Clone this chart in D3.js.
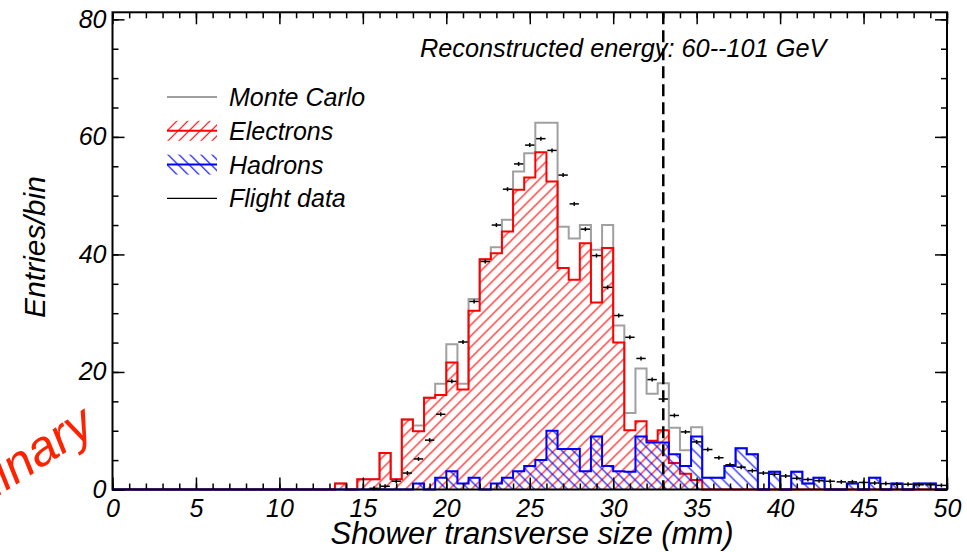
<!DOCTYPE html>
<html>
<head>
<meta charset="utf-8">
<script src="https://cdn.jsdelivr.net/npm/d3@7"></script>
<style>
  body { margin: 0; background: #fff; }
  text { font-family: "Liberation Sans", Arial, sans-serif; font-style: italic; }
</style>
</head>
<body>
<svg width="967" height="552"></svg>
<script>
const width = 967;
const height = 552;

// 75 bins of 2/3 mm between 0 and 50 mm
const xRange = [0, 50];
const yMax = 81.2;
const xMajorTicks = [0, 5, 10, 15, 20, 25, 30, 35, 40, 45, 50];
const yMajorTicks = [0, 20, 40, 60, 80];
const cutValue = 33;

const electrons = [
    0, 0, 0, 0, 0, 0, 0, 0, 0, 0, 0, 0, 0, 0, 0, 0, 0, 0, 0, 0,
    1.0, 0, 1.75, 1.75, 6.2, 1.75, 11.9, 9.9, 15.6, 16.1, 21.6, 17.0, 30.4, 39.2, 40.2,
    43.9, 51.0, 53.1, 57.4, 52.4, 37.7, 35.7, 41.9, 31.8, 41.1, 25.0, 10.1, 11.6, 8.3,
    10.1, 4.5, 2.7, 1.6,
    0, 0, 0, 0, 0, 0, 0, 0, 0, 0, 0, 0, 0, 0, 0, 0, 0, 0, 0, 0, 0, 0
];

const hadrons = [
    0, 0, 0, 0, 0, 0, 0, 0, 0, 0, 0, 0, 0, 0, 0, 0, 0, 0, 0, 0, 0, 0, 0, 0, 0, 0, 0,
    1, 0, 2, 3.1, 1, 2, 0, 1, 2, 3.1, 4, 5, 10, 6.9, 6.9, 3.1, 9, 4, 3.1, 3, 9, 8, 8,
    6, 4, 9, 2, 2, 4, 7, 6, 0, 3, 0, 3, 1, 2, 0, 0, 1, 0, 2, 0, 1, 0, 1, 1, 0
];

const monteCarlo = [
    0, 0, 0, 0, 0, 0, 0, 0, 0, 0, 0, 0, 0, 0, 0, 0, 0, 0, 0, 0,
    1.0, 0, 1.75, 1.75, 6.2, 1.75, 11.9, 10.9, 15.6, 18.0, 24.7, 18.0, 32.4, 39.2, 41.2,
    45.9, 54.1, 57.2, 62.4, 62.4, 44.7, 42.7, 45.0, 40.8, 45.0, 27.9, 13.0, 20.6, 16.3,
    18.1, 10.5, 6.7, 10.6, 2, 2, 4, 7, 6, 0, 3, 0, 3, 1, 2, 0, 0, 1, 0, 2, 0, 1, 0, 1, 1, 0
];

const flightData = [
    null, null, null, null, null, null, null, null, null, null, null, null,
    null, null, null, null, null, null, null, null, null, null, null,
    0.2, 0.55, 1.4, 2.8, 5.2, 8.4, 12.8, 18.4, 25.1, 32.0, 38.8, 45.0, 51.1, 55.4,
    58.6, 59.7, 57.7, 53.5, 48.6, 44.3, 39.8, 34.4, 29.6, 25.9, 22.3, 18.7, 15.4,
    12.6, 9.8, 8.1, 6.8, 5.4, 4.2, 3.8, 3.2, 2.8, 2.6, 2.3, 1.9, 1.7, 1.5, 1.4,
    1.3, 1.3, 1.2, 1.1, 1.0, 0.9, 0.9, 0.8, 0.8, 0.7
];

const legendItems = ['Monte Carlo', 'Electrons', 'Hadrons', 'Flight data'];

const svg = d3.select('svg');
const margin = { top: 12.3, right: 20, bottom: 62.5, left: 112.5 };
const innerWidth = width - margin.left - margin.right;
const innerHeight = height - margin.top - margin.bottom;
const nBins = electrons.length;
const binWidth = (xRange[1] - xRange[0]) / nBins;

const xScale = d3.scaleLinear().domain(xRange).range([0, innerWidth]);
const yScale = d3.scaleLinear().domain([0, yMax]).range([innerHeight, 0]);

svg.append('rect').attr('width', width).attr('height', height).attr('fill', '#fff');

const defs = svg.append('defs');
const hatch = (id, color, d) => {
    defs.append('pattern')
        .attr('id', id)
        .attr('patternUnits', 'userSpaceOnUse')
        .attr('width', 11).attr('height', 11)
        .append('path')
        .attr('d', d)
        .attr('stroke', color)
        .attr('stroke-width', 1.15)
        .attr('fill', 'none');
};
hatch('hatchRed', '#ff0000', 'M-1,1 l2,-2 M0,11 l11,-11 M10,12 l2,-2');
hatch('hatchBlue', '#0000ff', 'M-1,10 l2,2 M0,0 l11,11 M10,-1 l2,2');

const g = svg.append('g')
    .attr('transform', 'translate(' + margin.left + ',' + margin.top + ')');

// step points for a histogram
const stepPoints = values => {
    const pts = [[xRange[0], 0]];
    values.forEach((v, i) => {
        pts.push([xRange[0] + i * binWidth, v]);
        pts.push([xRange[0] + (i + 1) * binWidth, v]);
    });
    pts.push([xRange[1], 0]);
    return pts;
};

const line = d3.line().x(d => xScale(d[0])).y(d => yScale(d[1]));
const area = d3.area().x(d => xScale(d[0])).y0(yScale(0)).y1(d => yScale(d[1]));

g.append('path')
    .attr('d', line(stepPoints(monteCarlo)))
    .attr('fill', 'none')
    .attr('stroke', '#a0a0a0')
    .attr('stroke-width', 2);

g.append('path')
    .attr('d', area(stepPoints(electrons)))
    .attr('fill', 'url(#hatchRed)');
g.append('path')
    .attr('d', line(stepPoints(electrons)))
    .attr('fill', 'none')
    .attr('stroke', '#ff0000')
    .attr('stroke-width', 2);

g.append('path')
    .attr('d', area(stepPoints(hadrons)))
    .attr('fill', 'url(#hatchBlue)');
g.append('path')
    .attr('d', line(stepPoints(hadrons)))
    .attr('fill', 'none')
    .attr('stroke', '#0000ff')
    .attr('stroke-width', 2);

// energy cut
g.append('line')
    .attr('x1', xScale(cutValue)).attr('x2', xScale(cutValue))
    .attr('y1', 0).attr('y2', innerHeight)
    .attr('stroke', '#000')
    .attr('stroke-width', 2.5)
    .attr('stroke-dasharray', '12,6');

// flight data markers
const dataPts = flightData
    .map((v, i) => ({ x: xRange[0] + (i + 0.5) * binWidth, v: v }))
    .filter(d => d.v !== null);
const halfW = xScale(binWidth) * 0.42;
const marks = g.selectAll('.pt').data(dataPts).enter().append('g')
    .attr('class', 'pt')
    .attr('transform', d => 'translate(' + xScale(d.x) + ',' + yScale(d.v) + ')');
marks.append('line')
    .attr('x1', -halfW).attr('x2', halfW)
    .attr('stroke', '#000').attr('stroke-width', 1.5);
marks.append('line')
    .attr('y1', -2).attr('y2', 2)
    .attr('stroke', '#000').attr('stroke-width', 1.5);

// frame
g.append('rect')
    .attr('width', innerWidth).attr('height', innerHeight)
    .attr('fill', 'none').attr('stroke', '#000').attr('stroke-width', 2);

const tickStyle = sel => {
    sel.select('.domain').remove();
    sel.selectAll('.tick line').attr('stroke', '#000').attr('stroke-width', 1.5);
    sel.selectAll('.tick text').filter(function () { return this.textContent === ''; }).remove();
    sel.selectAll('.tick text').attr('fill', '#000').attr('font-size', 25)
        .attr('font-family', '"Liberation Sans", Arial, sans-serif');
};

const minorX = d3.range(0, 51, 1);
const minorY = d3.range(0, 81, 5);

g.append('g').attr('transform', 'translate(0,' + innerHeight + ')')
    .call(d3.axisBottom(xScale).tickValues(minorX).tickSize(-6).tickFormat(''))
    .call(tickStyle);
g.append('g').attr('transform', 'translate(0,' + innerHeight + ')')
    .call(d3.axisBottom(xScale).tickValues(xMajorTicks).tickSize(-12).tickPadding(10)
        .tickFormat(d3.format('d')))
    .call(tickStyle);
g.append('g')
    .call(d3.axisTop(xScale).tickValues(minorX).tickSize(-6).tickFormat(''))
    .call(tickStyle);
g.append('g')
    .call(d3.axisTop(xScale).tickValues(xMajorTicks).tickSize(-12).tickFormat(''))
    .call(tickStyle);

g.append('g')
    .call(d3.axisLeft(yScale).tickValues(minorY).tickSize(-6).tickFormat(''))
    .call(tickStyle);
g.append('g')
    .call(d3.axisLeft(yScale).tickValues(yMajorTicks).tickSize(-12).tickPadding(6)
        .tickFormat(d3.format('d')))
    .call(tickStyle);
g.append('g').attr('transform', 'translate(' + innerWidth + ',0)')
    .call(d3.axisRight(yScale).tickValues(minorY).tickSize(-6).tickFormat(''))
    .call(tickStyle);
g.append('g').attr('transform', 'translate(' + innerWidth + ',0)')
    .call(d3.axisRight(yScale).tickValues(yMajorTicks).tickSize(-12).tickFormat(''))
    .call(tickStyle);

// titles
svg.append('text')
    .text('Shower transverse size (mm)')
    .attr('x', 532).attr('y', 544)
    .attr('text-anchor', 'middle')
    .attr('font-size', 31);

svg.append('text')
    .text('Entries/bin')
    .attr('transform', 'translate(45,247) rotate(-90)')
    .attr('text-anchor', 'middle')
    .attr('font-size', 30);

svg.append('text')
    .text('Reconstructed energy: 60--101 GeV')
    .attr('x', 420).attr('y', 57)
    .attr('font-size', 25.3);

// legend
const legend = svg.append('g').attr('transform', 'translate(167,97)');
const rowH = 33.8;
legendItems.forEach((name, i) => {
    const row = legend.append('g').attr('transform', 'translate(0,' + i * rowH + ')');
    if (i === 1 || i === 2) {
        row.append('rect')
            .attr('x', 0).attr('y', -10).attr('width', 50).attr('height', 20)
            .attr('fill', i === 1 ? 'url(#hatchRed)' : 'url(#hatchBlue)');
    }
    row.append('line')
        .attr('x1', 0).attr('x2', 50)
        .attr('stroke', ['#a0a0a0', '#ff0000', '#0000ff', '#000'][i])
        .attr('stroke-width', i === 3 ? 1.2 : 2);
    row.append('text')
        .text(name)
        .attr('x', 62).attr('y', 9)
        .attr('font-size', 25);
});

// watermark
svg.append('text')
    .text('Preliminary')
    .attr('transform', 'translate(97,432) rotate(-33)')
    .attr('text-anchor', 'end')
    .attr('fill', '#ff2200')
    .attr('font-style', 'normal')
    .attr('font-size', 50);
</script>
</body>
</html>
